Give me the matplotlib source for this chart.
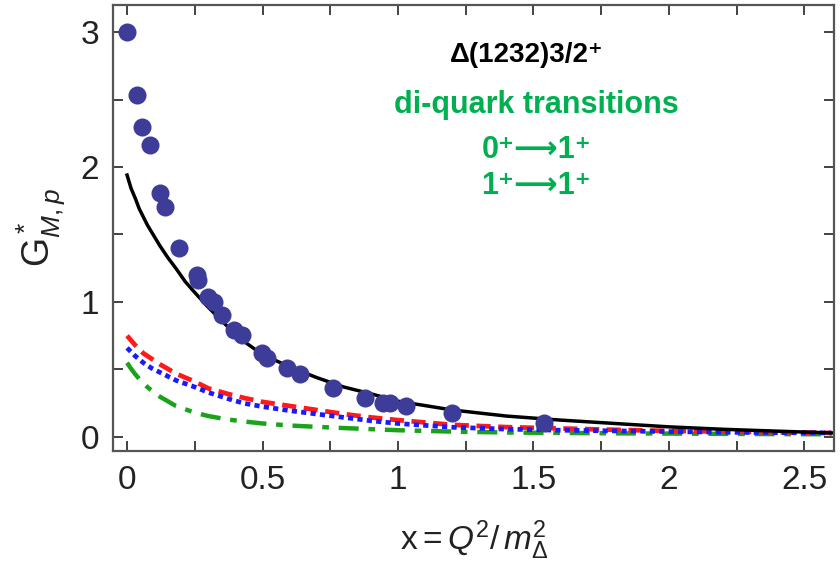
import numpy as np
import matplotlib.pyplot as plt
from matplotlib.ticker import MultipleLocator, FuncFormatter

plt.rcParams['font.family'] = ['Liberation Sans', 'DejaVu Sans']
plt.rcParams['mathtext.fontset'] = 'custom'
plt.rcParams['mathtext.rm'] = 'Liberation Sans'
plt.rcParams['mathtext.it'] = 'Liberation Sans:italic'

# experimental points
x_data = [0.0, 0.037, 0.055, 0.085, 0.122, 0.14, 0.19, 0.258, 0.262, 0.30, 0.32,
          0.35, 0.395, 0.424, 0.498, 0.517, 0.59, 0.64, 0.76, 0.88, 0.945, 0.97,
          1.03, 1.20, 1.54]
y_data = [3.0, 2.53, 2.30, 2.16, 1.81, 1.70, 1.40, 1.20, 1.16, 1.04, 1.00,
          0.90, 0.79, 0.755, 0.62, 0.585, 0.51, 0.47, 0.36, 0.29, 0.25, 0.25,
          0.23, 0.18, 0.10]

# model curves
x_curve = [0.0, 0.015, 0.03, 0.045, 0.06, 0.075, 0.09, 0.105, 0.12, 0.15, 0.18, 0.215,
           0.25, 0.30, 0.37, 0.43, 0.50, 0.60, 0.70, 0.80, 0.90, 1.00, 1.20, 1.40,
           1.60, 1.80, 2.00, 2.20, 2.40, 2.60]
g_total = [1.94, 1.84, 1.77, 1.69, 1.63, 1.57, 1.52, 1.47, 1.42, 1.33, 1.25, 1.15,
           1.07, 0.96, 0.82, 0.71, 0.61, 0.52, 0.44, 0.37, 0.32, 0.265, 0.20, 0.155,
           0.125, 0.10, 0.075, 0.057, 0.043, 0.03]
g_red = [0.75, 0.715, 0.68, 0.65, 0.62, 0.60, 0.58, 0.56, 0.54, 0.505, 0.47, 0.44,
         0.41, 0.36, 0.32, 0.29, 0.26, 0.23, 0.20, 0.17, 0.145, 0.125, 0.09, 0.073,
         0.063, 0.053, 0.045, 0.04, 0.035, 0.03]
g_blue = [0.66, 0.63, 0.60, 0.575, 0.55, 0.53, 0.51, 0.495, 0.48, 0.45, 0.42, 0.395,
          0.37, 0.33, 0.285, 0.25, 0.225, 0.195, 0.17, 0.145, 0.12, 0.10, 0.072, 0.058,
          0.05, 0.045, 0.04, 0.035, 0.032, 0.03]
g_green = [0.55, 0.505, 0.465, 0.43, 0.40, 0.37, 0.345, 0.32, 0.30, 0.265, 0.23, 0.205,
           0.18, 0.155, 0.13, 0.115, 0.10, 0.085, 0.075, 0.066, 0.058, 0.05, 0.04, 0.033,
           0.03, 0.027, 0.025, 0.023, 0.021, 0.02]

fig = plt.figure(figsize=(8.4, 5.83), dpi=100)
ax = fig.add_axes([0.1345, 0.2264, 0.8585, 0.765])

ax.plot(x_curve, g_green, color='#1aa31a', lw=3.2, dashes=(4.5, 2.2, 1.5, 2.2))
ax.plot(x_curve, g_red, color='#ff1a1a', lw=3.4, dashes=(3.0, 1.6))
ax.plot(x_curve, g_blue, color='#1a1aff', lw=3.4, dashes=(1.1, 0.9))
ax.plot(x_curve, g_total, color='black', lw=2.5)
ax.plot(x_data, y_data, 'o', color='#3d3d99', ms=13, mec='none', zorder=5)

ax.set_xlim(-0.052, 2.61)
ax.set_ylim(-0.104, 3.2)

ax.xaxis.set_major_locator(MultipleLocator(0.25))
ax.yaxis.set_major_locator(MultipleLocator(0.5))
ax.xaxis.set_major_formatter(FuncFormatter(
    lambda v, p: ('%g' % v) if abs(v / 0.5 - round(v / 0.5)) < 1e-6 else ''))
ax.yaxis.set_major_formatter(FuncFormatter(
    lambda v, p: ('%g' % v) if abs(v - round(v)) < 1e-6 else ''))
ax.tick_params(direction='in', length=7, width=1.2, top=True, right=True,
               labelsize=24, pad=10, colors='#222222')

for s in ax.spines.values():
    s.set_color('#555555')
    s.set_linewidth(1.6)

ax.set_xlabel(r'x$=Q^2/\,m_\Delta^2$', fontsize=24, labelpad=16, color='#222222')
ax.set_ylabel(r'G$^*_{M,p}$', fontsize=27, labelpad=10, color='#222222')

ax.text(0.573, 0.888, '\u0394(1232)3/2\u207a', transform=ax.transAxes, ha='center',
        va='center', fontsize=20, fontweight='bold', color='black')
ax.text(0.587, 0.776, 'di-quark transitions', transform=ax.transAxes, ha='center',
        va='center', fontsize=22, fontweight='bold', color='#00b050')
ax.text(0.587, 0.675, '0\u207a\u27f61\u207a', transform=ax.transAxes, ha='center',
        va='center', fontsize=22, fontweight='bold', color='#00b050')
ax.text(0.587, 0.595, '1\u207a\u27f61\u207a', transform=ax.transAxes, ha='center',
        va='center', fontsize=22, fontweight='bold', color='#00b050')

fig.savefig('out.png', dpi=100)
